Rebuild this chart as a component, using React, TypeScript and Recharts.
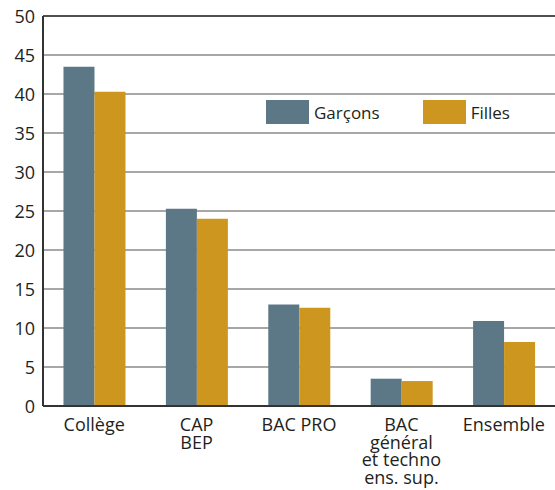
import { BarChart, Bar, XAxis, YAxis, CartesianGrid, Legend, ReferenceLine } from 'recharts'

const categories = ['Collège', 'CAP\nBEP', 'BAC PRO', 'BAC\ngénéral\net techno\nens. sup.', 'Ensemble']
const garcons = [43.5, 25.3, 13.0, 3.5, 10.9]
const filles = [40.3, 24.0, 12.6, 3.2, 8.2]
const yTicks = [0, 5, 10, 15, 20, 25, 30, 35, 40, 45, 50]

const series = [
  { key: 'garcons', name: 'Garçons', color: '#5c7886' },
  { key: 'filles', name: 'Filles', color: '#cd961f' },
]

const data = categories.map((c, i) => ({ cat: c, garcons: garcons[i], filles: filles[i] }))

const FONT = '"Open Sans", sans-serif'
const TEXT = '#231f20'

function XTick(props: any) {
  const { x, y, payload } = props
  const lines = String(payload.value).split('\n')
  return (
    <text x={x} y={y} textAnchor="middle" fontFamily={FONT} fontSize={18} fill={TEXT}>
      {lines.map((l, i) => (
        <tspan key={i} x={x} dy={i === 0 ? 17 : 17.7}>{l}</tspan>
      ))}
    </text>
  )
}

function YTick(props: any) {
  const { x, y, payload } = props
  return (
    <text x={x} y={y} textAnchor="end" dominantBaseline="central" fontFamily={FONT} fontSize={18} fill={TEXT}>
      {payload.value}
    </text>
  )
}

function LegendContent() {
  return (
    <div style={{ display: 'flex', alignItems: 'center', fontFamily: FONT, fontSize: 17, color: TEXT }}>
      {series.map((s, i) => (
        <div key={s.key} style={{ display: 'flex', alignItems: 'center', marginRight: i === 0 ? 43 : 0 }}>
          <div style={{ width: 43, height: 24, background: s.color, marginRight: 5 }} />
          <span>{s.name}</span>
        </div>
      ))}
    </div>
  )
}

export default function App() {
  return (
    <div style={{ position: 'absolute', left: 0, top: 0, width: 555, height: 490, background: '#fff' }}>
      <BarChart
        width={555}
        height={490}
        data={data}
        margin={{ top: 16, right: 0, left: 0, bottom: 0 }}
        barCategoryGap="20%"
        barGap={0}
      >
        <CartesianGrid vertical={false} stroke="#8a8a8a" strokeWidth={1.5} />
        <ReferenceLine y={50} stroke="#333" strokeWidth={1.5} />
        <XAxis
          dataKey="cat"
          height={84}
          interval={0}
          axisLine={{ stroke: '#333', strokeWidth: 2 }}
          tickLine={false}
          tick={<XTick />}
        />
        <YAxis
          width={43}
          domain={[0, 50]}
          ticks={yTicks}
          interval={0}
          axisLine={{ stroke: '#333', strokeWidth: 2 }}
          tickLine={false}
          tick={<YTick />}
        />
        <Legend
          layout="horizontal"
          verticalAlign="middle"
          align="center"
          content={<LegendContent />}
          wrapperStyle={{ position: 'absolute', top: 100, left: 266, width: 270 }}
        />
        {series.map(s => (
          <Bar key={s.key} dataKey={s.key} name={s.name} fill={s.color} isAnimationActive={false} />
        ))}
      </BarChart>
    </div>
  )
}
